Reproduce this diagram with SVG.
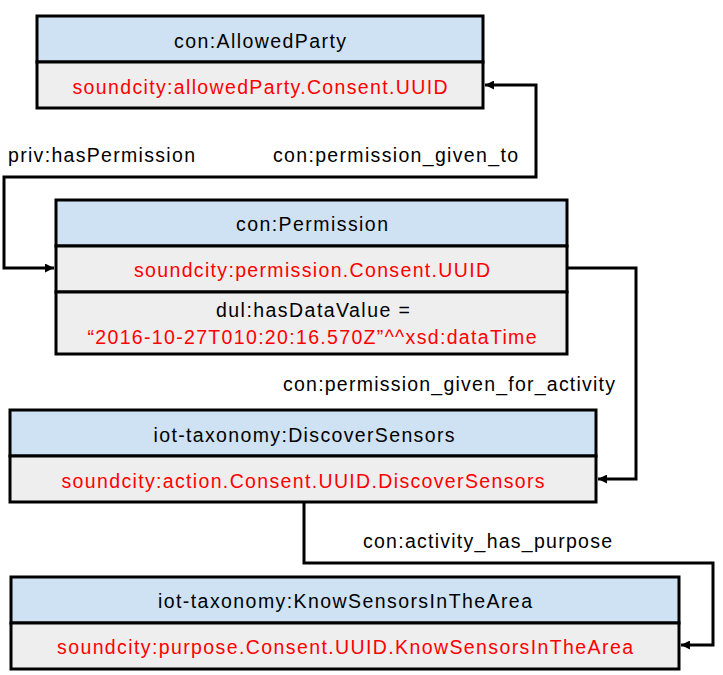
<svg xmlns="http://www.w3.org/2000/svg" width="723" height="675" viewBox="0 0 723 675">
  <style>
    .hdr { fill: #cfe2f3; stroke: #000; stroke-width: 3; }
    .row { fill: #eeeeee; stroke: #000; stroke-width: 3; }
    text { font-family: "Liberation Sans", Arial, sans-serif; font-size: 19.5px; }
    .t { fill: #000; text-anchor: middle; }
    .r { fill: #ff0000; text-anchor: middle; }
    .lbl { fill: #000; }
    .edge { fill: none; stroke: #000; stroke-width: 3; stroke-linejoin: miter; }
  </style>
  <defs>
    <marker id="arr" viewBox="0 0 10 10" refX="10" refY="5" markerWidth="10" markerHeight="9" markerUnits="userSpaceOnUse" orient="auto-start-reverse">
      <path d="M0,0 L10,5 L0,10 z" fill="#000"/>
    </marker>
  </defs>
  <rect width="723" height="675" fill="#fff"/>

  <g id="connectors">
    <path class="edge" d="M 54 268 L 4 268 L 4 177 L 536 177 L 536 85 L 485 85" marker-start="url(#arr)" marker-end="url(#arr)"/>
    <path class="edge" d="M 567 268 L 636 268 L 636 479 L 598 479" marker-end="url(#arr)"/>
    <path class="edge" d="M 304 502 L 304 563 L 713 563 L 713 645 L 681 645" marker-end="url(#arr)"/>
    <text class="lbl" x="8" y="162" textLength="187" lengthAdjust="spacing">priv:hasPermission</text>
    <text class="lbl" x="273" y="162" textLength="245" lengthAdjust="spacing">con:permission_given_to</text>
    <text class="lbl" x="283" y="391" textLength="332" lengthAdjust="spacing">con:permission_given_for_activity</text>
    <text class="lbl" x="363" y="548" textLength="249" lengthAdjust="spacing">con:activity_has_purpose</text>
  </g>

  <g id="node-allowedparty">
    <rect class="hdr" x="37" y="16" width="446" height="46"/>
    <rect class="row" x="37" y="62" width="446" height="46"/>
    <text class="t" x="260" y="48" textLength="172" lengthAdjust="spacing">con:AllowedParty</text>
    <text class="r" x="260" y="94" textLength="375" lengthAdjust="spacing">soundcity:allowedParty.Consent.UUID</text>
  </g>

  <g id="node-permission">
    <rect class="hdr" x="56" y="200" width="511" height="46"/>
    <rect class="row" x="56" y="246" width="511" height="46"/>
    <rect class="row" x="56" y="292" width="511" height="62"/>
    <text class="t" x="312" y="231" textLength="152" lengthAdjust="spacing">con:Permission</text>
    <text class="r" x="312" y="277" textLength="356" lengthAdjust="spacing">soundcity:permission.Consent.UUID</text>
    <text class="t" x="313" y="317" textLength="194" lengthAdjust="spacing">dul:hasDataValue =</text>
    <text class="r" x="312" y="344" textLength="449" lengthAdjust="spacing">“2016-10-27T010:20:16.570Z”^^xsd:dataTime</text>
  </g>

  <g id="node-discoversensors">
    <rect class="hdr" x="10" y="410" width="586" height="46"/>
    <rect class="row" x="10" y="456" width="586" height="46"/>
    <text class="t" x="304" y="442" textLength="301" lengthAdjust="spacing">iot-taxonomy:DiscoverSensors</text>
    <text class="r" x="303" y="488" textLength="483" lengthAdjust="spacing">soundcity:action.Consent.UUID.DiscoverSensors</text>
  </g>

  <g id="node-knowsensors">
    <rect class="hdr" x="11" y="577" width="668" height="46"/>
    <rect class="row" x="11" y="623" width="668" height="46"/>
    <text class="t" x="345" y="608" textLength="374" lengthAdjust="spacing">iot-taxonomy:KnowSensorsInTheArea</text>
    <text class="r" x="345" y="654" textLength="576" lengthAdjust="spacing">soundcity:purpose.Consent.UUID.KnowSensorsInTheArea</text>
  </g>
</svg>
